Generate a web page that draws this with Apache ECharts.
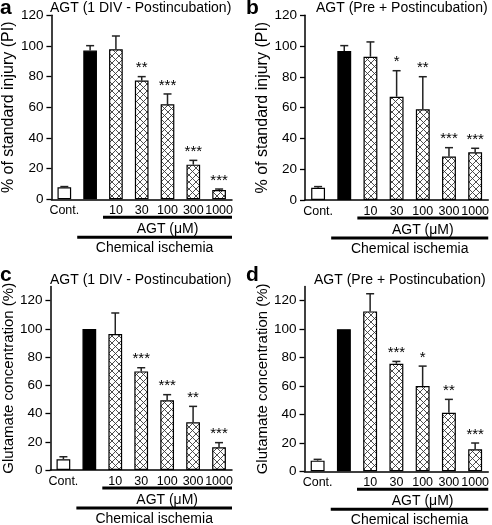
<!DOCTYPE html>
<html>
<head>
<meta charset="utf-8">
<script src="https://cdn.jsdelivr.net/npm/echarts@6/dist/echarts.min.js"></script>
<style>
html,body{margin:0;padding:0;background:#fff;}
#chart{width:492px;height:525px;}
</style>
</head>
<body>
<div id="chart"></div>
<script>
// ---- data ----
const categories = ['Cont.', '', '10', '30', '100', '300', '1000'];
const yTicksAB = [0, 20, 40, 60, 80, 100, 120];
const yTicksCD = [0, 20, 40, 60, 80, 100, 120];

const aMeans = [7.8, 97, 97.8, 77.4, 62, 22.6, 6];
const aErrTop = [8.3, 100.2, 106.5, 80, 68.7, 25.4, 6.7];
const aStars = ['', '', '', '**', '***', '***', '***'];

const bMeans = [8, 96.8, 93.1, 67.1, 58.9, 28.2, 31];
const bErrTop = [8.7, 100.3, 102.7, 84, 80.1, 34, 33.6];
const bStars = ['', '', '', '*', '**', '***', '***'];

const cMeans = [7.6, 100, 96.4, 69.9, 49.4, 33.8, 16.1];
const cErrTop = [9.4, 100, 111.3, 72.5, 53.4, 45.1, 19.4];
const cStars = ['', '', '', '***', '***', '**', '***'];

const dMeans = [7.5, 100, 112.5, 75.7, 60, 41.2, 15.5];
const dErrTop = [8.4, 100, 124.9, 77.3, 74, 50.6, 19.9];
const dStars = ['', '', '', '***', '*', '**', '***'];

const panelLetters = ['a', 'b', 'c', 'd'];
const panelTitles = ['AGT (1 DIV - Postincubation)', 'AGT (Pre + Postincubation)',
                     'AGT (1 DIV - Postincubation)', 'AGT (Pre + Postincubation)'];
const yNames = ['% of standard injury (PI)', '% of standard injury (PI)',
                'Glutamate concentration (%)', 'Glutamate concentration (%)'];
const agtLabel = 'AGT (\u03bcM)';
const ischemiaLabel = 'Chemical ischemia';

// ---- layout / style ----
const FONT = 'Liberation Sans, Arial, Helvetica, sans-serif';
const panels = [
  {means: aMeans, err: aErrTop, stars: aStars, max: 120, ticks: yTicksAB,
   grid: {left: 47, top: 15.3, right: 260, bottom: 325.7}, nameGap: 27, nameSize: 16,
   title: {x: 50, y: 1}, letter: {x: 0, y: -2}},
  {means: bMeans, err: bErrTop, stars: bStars, max: 120, ticks: yTicksAB,
   grid: {left: 305, top: 15.3, right: 3, bottom: 325}, nameGap: 32, nameSize: 16,
   title: {x: 316, y: 1}, letter: {x: 246, y: -2}},
  {means: cMeans, err: cErrTop, stars: cStars, max: 130, ticks: yTicksCD,
   grid: {left: 46.5, top: 286.6, right: 260, bottom: 55}, nameGap: 30, nameSize: 15,
   title: {x: 50, y: 273}, letter: {x: 0, y: 265}},
  {means: dMeans, err: dErrTop, stars: dStars, max: 130, ticks: yTicksCD,
   grid: {left: 304.5, top: 286.5, right: 3, bottom: 53.7}, nameGap: 34, nameSize: 15,
   title: {x: 314, y: 273}, letter: {x: 246, y: 265}}
];

function makeHatch() {
  const n = 7;
  const c = document.createElement('canvas');
  c.width = n; c.height = n;
  const ctx = c.getContext('2d');
  ctx.fillStyle = '#fff';
  ctx.fillRect(0, 0, n, n);
  ctx.strokeStyle = '#3a3a3a';
  ctx.lineWidth = 0.9;
  ctx.beginPath();
  for (let o = -n; o <= n; o += n) {
    ctx.moveTo(o, 0); ctx.lineTo(o + n, n);
    ctx.moveTo(o + n, 0); ctx.lineTo(o, n);
  }
  ctx.stroke();
  return c;
}
const hatch = {image: makeHatch(), repeat: 'repeat'};

function barColor(i) {
  if (i === 0) return '#fff';
  if (i === 1) return '#000';
  return hatch;
}

const chart = echarts.init(document.getElementById('chart'), null, {renderer: 'canvas'});

const option = {
  backgroundColor: '#fff',
  animation: false,
  title: [],
  grid: [],
  xAxis: [],
  yAxis: [],
  series: []
};

panels.forEach((p, k) => {
  option.title.push({
    text: panelTitles[k], left: p.title.x, top: p.title.y, padding: 0,
    textStyle: {fontFamily: FONT, fontSize: 14, fontWeight: 'normal', color: '#000'}
  });
  option.title.push({
    text: panelLetters[k], left: p.letter.x, top: p.letter.y, padding: 0,
    textStyle: {fontFamily: FONT, fontSize: 21, fontWeight: 'bold', color: '#000'}
  });
  option.grid.push(Object.assign({containLabel: false}, p.grid));
  option.xAxis.push({
    type: 'category', gridIndex: k, data: categories,
    axisLine: {lineStyle: {color: '#000', width: 1.5}},
    axisTick: {show: false},
    axisLabel: {color: '#000', fontFamily: FONT, fontSize: 12.5, margin: 5, interval: 0}
  });
  option.yAxis.push({
    type: 'value', gridIndex: k, min: 0, max: p.max, interval: 20,
    name: yNames[k], nameLocation: 'middle', nameGap: p.nameGap,
    nameTextStyle: {fontFamily: FONT, fontSize: p.nameSize, color: '#000'},
    axisLine: {show: true, lineStyle: {color: '#000', width: 1.5}},
    axisTick: {show: true, length: 5, lineStyle: {color: '#000', width: 1.3}, customValues: p.ticks},
    axisLabel: {color: '#000', fontFamily: FONT, fontSize: 13.5, margin: 8, customValues: p.ticks},
    splitLine: {show: false}
  });
  option.series.push({
    type: 'bar', xAxisIndex: k, yAxisIndex: k, barWidth: '53%',
    data: p.means.map((v, i) => ({
      value: v,
      itemStyle: {color: barColor(i), borderColor: '#000', borderWidth: 1.2}
    })),
    z: 2
  });
  option.series.push({
    type: 'custom', xAxisIndex: k, yAxisIndex: k, z: 3,
    data: p.means.map((v, i) => [i, v, p.err[i]]),
    renderItem: function (params, api) {
      const i = api.value(0);
      const base = api.coord([i, api.value(1)]);
      const top = api.coord([i, api.value(2)]);
      const children = [];
      if (top[1] < base[1] - 0.5) {
        children.push({type: 'line', shape: {x1: base[0], y1: base[1], x2: top[0], y2: top[1]},
          style: {stroke: '#222', lineWidth: 1.5}});
        children.push({type: 'line', shape: {x1: top[0] - 4, y1: top[1], x2: top[0] + 4, y2: top[1]},
          style: {stroke: '#222', lineWidth: 1.5}});
      }
      const s = p.stars[i];
      if (s) {
        children.push({type: 'text', style: {text: s, x: top[0], y: top[1] - 1,
          align: 'center', verticalAlign: 'bottom', font: '15px ' + FONT, fill: '#000'}});
      }
      return {type: 'group', children: children};
    }
  });
});

chart.setOption(option);

// grouping brackets below the category axis, positioned through the axes
const graphics = [];
panels.forEach((p, k) => {
  const cBlack = chart.convertToPixel({xAxisIndex: k}, 1);
  const c10 = chart.convertToPixel({xAxisIndex: k}, 2);
  const cLast = chart.convertToPixel({xAxisIndex: k}, categories.length - 1);
  const band = c10 - cBlack;
  const end = cLast + band / 2;
  const zeroY = chart.convertToPixel({yAxisIndex: k}, 0);
  const agtStart = c10 - band / 2;
  const chemStart = cBlack - band / 2;
  graphics.push({type: 'line', shape: {x1: agtStart, y1: zeroY + 18, x2: end, y2: zeroY + 18},
    style: {stroke: '#000', lineWidth: 3}});
  graphics.push({type: 'line', shape: {x1: chemStart, y1: zeroY + 38, x2: end, y2: zeroY + 38},
    style: {stroke: '#000', lineWidth: 3}});
  graphics.push({type: 'text', style: {text: agtLabel, x: (agtStart + end) / 2, y: zeroY + 30,
    align: 'center', verticalAlign: 'middle', font: '14px ' + FONT, fill: '#000'}});
  graphics.push({type: 'text', style: {text: ischemiaLabel, x: (chemStart + end) / 2, y: zeroY + 49,
    align: 'center', verticalAlign: 'middle', font: '14px ' + FONT, fill: '#000'}});
});
chart.setOption({graphic: graphics});
</script>
</body>
</html>
